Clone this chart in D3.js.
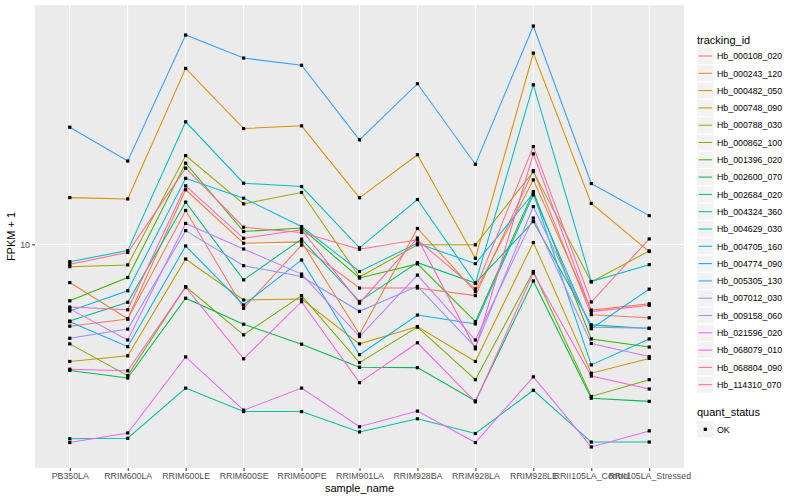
<!DOCTYPE html>
<html>
<head>
<meta charset="utf-8">
<script src="https://cdn.jsdelivr.net/npm/d3@7"></script>
<style>
  body { margin: 0; background: #fff; }
  text { font-family: "Liberation Sans", Arial, sans-serif; }
</style>
</head>
<body>
<svg id="chart" width="800" height="500"></svg>
<script>
let samples = ["PB350LA", "RRIM600LA", "RRIM600LE", "RRIM600SE", "RRIM600PE", "RRIM901LA",
  "RRIM928BA", "RRIM928LA", "RRIM928LE", "RRII105LA_Control", "RRII105LA_Stressed"]

let trackingIds = ["Hb_000108_020", "Hb_000243_120", "Hb_000482_050", "Hb_000748_090", "Hb_000788_030",
  "Hb_000862_100", "Hb_001396_020", "Hb_002600_070", "Hb_002684_020", "Hb_004324_360",
  "Hb_004629_030", "Hb_004705_160", "Hb_004774_090", "Hb_005305_130", "Hb_007012_030",
  "Hb_009158_060", "Hb_021596_020", "Hb_068079_010", "Hb_068804_090", "Hb_114310_070"]

// FPKM + 1, one row per tracking_id, in the order of samples
let fpkmPlusOne = [
  [6.99, 7.21, 11.60, 7.56, 9.97, 8.26, 8.26, 7.99, 13.81, 7.35, 7.25],     // 000108_020
  [8.46, 7.22, 12.70, 10.05, 10.11, 6.75, 10.72, 8.13, 13.26, 7.50, 7.71],  // 000243_120
  [12.27, 12.20, 21.6, 16.6, 16.8, 12.26, 14.8, 9.41, 23.1, 11.96, 9.69],   // 000482_050
  [5.99, 6.14, 9.38, 7.84, 7.87, 6.47, 6.98, 5.99, 10.08, 5.69, 6.07],      // 000748_090
  [9.07, 9.14, 14.75, 11.94, 12.55, 8.67, 9.98, 9.98, 13.75, 8.48, 9.72],   // 000788_030
  [6.47, 5.63, 8.31, 6.73, 7.99, 5.96, 6.96, 5.53, 8.88, 5.14, 5.53],       // 000862_100
  [7.81, 8.65, 14.27, 10.58, 10.74, 8.63, 9.18, 7.13, 12.60, 6.61, 6.38],   // 001396_020
  [5.76, 5.57, 7.90, 7.05, 6.46, 5.84, 5.83, 5.04, 8.52, 5.10, 5.03],       // 002600_070
  [7.15, 7.76, 12.03, 8.56, 10.23, 7.79, 9.23, 8.44, 11.05, 7.03, 6.92],    // 002684_020
  [4.27, 4.28, 5.33, 4.81, 4.81, 4.40, 4.66, 4.37, 5.28, 4.21, 4.21],       // 004324_360
  [9.27, 9.73, 17.1, 13.07, 12.88, 9.85, 12.17, 8.44, 20.1, 8.50, 9.15],    // 004629_030
  [7.47, 8.16, 13.35, 12.24, 10.81, 8.88, 10.05, 9.19, 12.51, 5.90, 6.61],  // 004705_160
  [7.13, 6.39, 9.93, 7.67, 9.34, 6.17, 7.34, 7.06, 12.42, 6.91, 8.22],      // 004774_090
  [16.7, 14.4, 25.0, 22.6, 21.9, 15.8, 20.2, 14.2, 26.0, 13.05, 11.34],     // 005305_130
  [6.63, 6.90, 10.62, 9.11, 8.69, 7.46, 8.32, 6.38, 11.80, 6.96, 6.93],     // 007012_030
  [7.54, 6.58, 10.96, 9.80, 8.78, 6.68, 8.74, 6.58, 11.22, 6.48, 6.12],     // 009158_060
  [4.20, 4.38, 6.11, 4.84, 5.33, 4.50, 4.82, 4.20, 5.60, 4.12, 4.42],       // 021596_020
  [5.79, 5.75, 8.29, 6.06, 7.78, 5.46, 6.50, 5.02, 8.82, 5.62, 5.31],       // 068079_010
  [7.60, 7.51, 12.92, 10.27, 10.66, 7.73, 10.28, 6.33, 14.86, 7.45, 7.66],  // 068804_090
  [9.17, 9.65, 13.96, 10.78, 10.53, 9.79, 10.20, 8.23, 15.34, 7.77, 10.24]  // 114310_070
]

let yTicks = [10]

let hueColors = ["#F8766D", "#EA8331", "#D89000", "#C09B00", "#A3A500", "#7CAE00", "#39B600",
  "#00BB4E", "#00BF7D", "#00C1A3", "#00BFC4", "#00BAE0", "#00B0F6", "#35A2FF", "#9590FF",
  "#C77CFF", "#E76BF3", "#FA62DB", "#FF62BC", "#FF6C91"]

let svg = d3.select("#chart")
let panel = { left: 35, right: 684, top: 5, bottom: 468 }

// log scale with ggplot-like 5% expansion
let allValues = fpkmPlusOne.flat()
let lo = Math.log10(d3.min(allValues))
let hi = Math.log10(d3.max(allValues))
let pad = (hi - lo) * 0.05

let x = d3.scalePoint()
  .domain(samples)
  .range([panel.left, panel.right])
  .padding(0.6)

let y = d3.scaleLog()
  .domain([Math.pow(10, lo - pad), Math.pow(10, hi + pad)])
  .range([panel.bottom, panel.top])

let color = d3.scaleOrdinal().domain(trackingIds).range(hueColors)

svg.append("rect")
  .attr("x", panel.left).attr("y", panel.top)
  .attr("width", panel.right - panel.left)
  .attr("height", panel.bottom - panel.top)
  .attr("fill", "#EBEBEB")

// grid
svg.append("g").selectAll("line")
  .data(samples)
  .enter().append("line")
  .attr("x1", d => x(d)).attr("x2", d => x(d))
  .attr("y1", panel.top).attr("y2", panel.bottom)
  .attr("stroke", "#fff").attr("stroke-width", 1.1)

svg.append("g").selectAll("line")
  .data(yTicks)
  .enter().append("line")
  .attr("x1", panel.left).attr("x2", panel.right)
  .attr("y1", d => y(d)).attr("y2", d => y(d))
  .attr("stroke", "#fff").attr("stroke-width", 1.1)

// axes
let xAxis = svg.append("g")
  .attr("transform", `translate(0,${panel.bottom})`)
  .call(d3.axisBottom(x).tickSize(3).tickPadding(2))
let yAxis = svg.append("g")
  .attr("transform", `translate(${panel.left},0)`)
  .call(d3.axisLeft(y).tickValues(yTicks).tickFormat(d3.format("d")).tickSize(3).tickPadding(2))

for (let ax of [xAxis, yAxis]) {
  ax.select(".domain").remove()
  ax.selectAll(".tick line").attr("stroke", "#333333")
  ax.selectAll(".tick text").attr("fill", "#4D4D4D").attr("font-size", "8.8px")
    .attr("font-family", "Liberation Sans, Arial, sans-serif")
}

svg.append("text")
  .attr("x", (panel.left + panel.right) / 2).attr("y", 492)
  .attr("text-anchor", "middle").attr("font-size", "11px")
  .text("sample_name")

svg.append("text")
  .attr("transform", `translate(15,${(panel.top + panel.bottom) / 2}) rotate(-90)`)
  .attr("text-anchor", "middle").attr("font-size", "11px")
  .text("FPKM + 1")

// lines
let line = d3.line()
  .x((d, i) => x(samples[i]))
  .y(d => y(d))

svg.append("g").selectAll("path")
  .data(fpkmPlusOne)
  .enter().append("path")
  .attr("d", d => line(d))
  .attr("fill", "none")
  .attr("stroke", (d, i) => color(trackingIds[i]))
  .attr("stroke-width", 1.05)

// points
let points = []
fpkmPlusOne.forEach((row, i) => {
  row.forEach((v, j) => points.push({ sample: samples[j], value: v }))
})
svg.append("g").selectAll("rect")
  .data(points)
  .enter().append("rect")
  .attr("x", d => x(d.sample) - 1.6)
  .attr("y", d => y(d.value) - 1.6)
  .attr("width", 3.2).attr("height", 3.2)
  .attr("fill", "#000")

// legend
let legend = svg.append("g").attr("transform", "translate(697,0)")
legend.append("text")
  .attr("x", 0).attr("y", 44)
  .attr("font-size", "11px")
  .text("tracking_id")

let keys = legend.selectAll("g.key")
  .data(trackingIds)
  .enter().append("g")
  .attr("class", "key")
  .attr("transform", (d, i) => `translate(0,${56 + i * 17.3})`)

keys.append("rect")
  .attr("x", 0).attr("y", -8.3)
  .attr("width", 16.6).attr("height", 16.6)
  .attr("fill", "#F2F2F2").attr("stroke", "#fff").attr("stroke-width", 0.6)
keys.append("line")
  .attr("x1", 1.5).attr("x2", 15.1)
  .attr("y1", 0).attr("y2", 0)
  .attr("stroke", d => color(d)).attr("stroke-width", 1.05)
keys.append("text")
  .attr("x", 20).attr("y", 3.2)
  .attr("font-size", "8.8px")
  .text(d => d)

legend.append("text")
  .attr("x", 0).attr("y", 416)
  .attr("font-size", "11px")
  .text("quant_status")

let okKey = legend.append("g").attr("transform", "translate(0,429.3)")
okKey.append("rect")
  .attr("x", 0).attr("y", -8.3)
  .attr("width", 16.6).attr("height", 16.6)
  .attr("fill", "#F2F2F2")
okKey.append("rect")
  .attr("x", 6.7).attr("y", -1.6)
  .attr("width", 3.2).attr("height", 3.2)
  .attr("fill", "#000")
okKey.append("text")
  .attr("x", 20).attr("y", 3.2)
  .attr("font-size", "8.8px")
  .text("OK")
</script>
</body>
</html>
